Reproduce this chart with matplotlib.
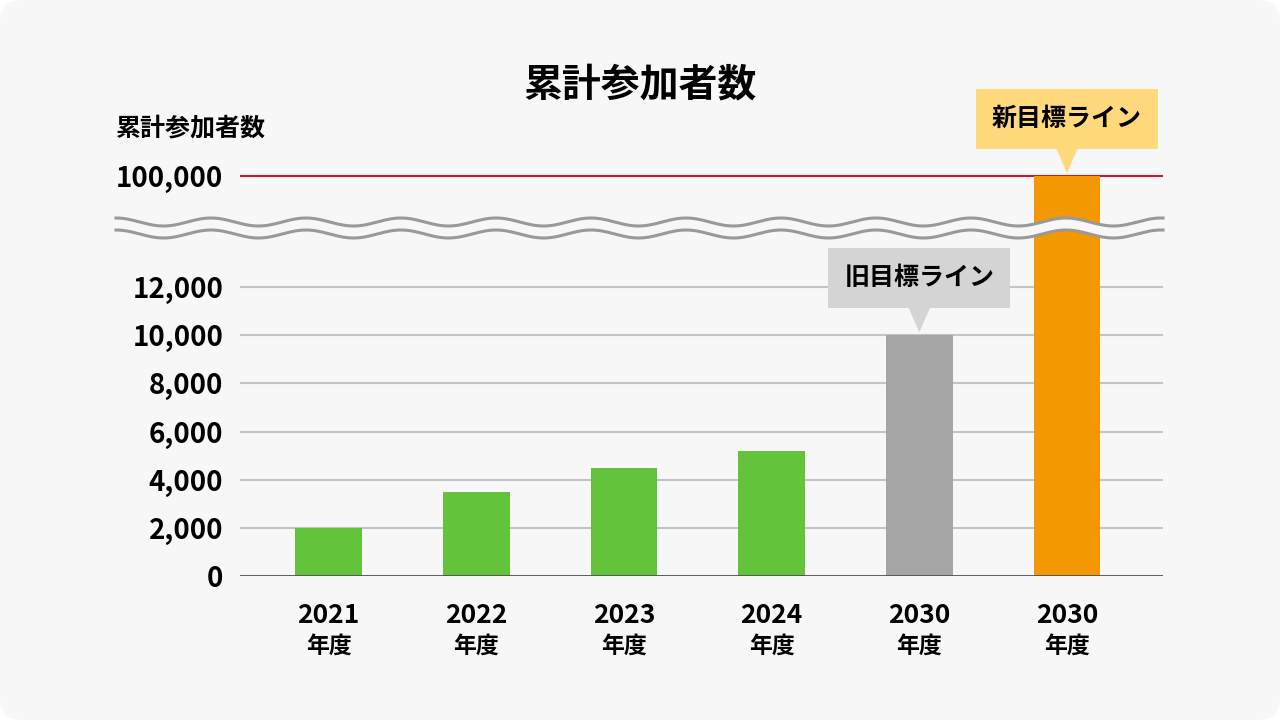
import numpy as np
import matplotlib.pyplot as plt
from matplotlib.patches import FancyBboxPatch, Polygon, Rectangle
from matplotlib.lines import Line2D
from matplotlib.transforms import IdentityTransform

plt.rcParams['font.family'] = ['Noto Sans CJK JP', 'DejaVu Sans']

years = ['2021', '2022', '2023', '2024', '2030', '2030']
values = [2000, 3500, 4500, 5200, 10000, 100000]
colors = ['#63c33a', '#63c33a', '#63c33a', '#63c33a', '#a5a5a5', '#f39800']
yticks = [0, 2000, 4000, 6000, 8000, 10000, 12000, 100000]
callouts = [(4, '旧目標ライン', '#d4d4d4'), (5, '新目標ライン', '#ffd97b')]

# broken axis: linear up to 13000, compressed above
B = 13000
K = 0.0415

def fwd(y):
    y = np.asarray(y, dtype=float)
    return np.where(y <= B, y, B + (y - B) * K)

def inv(f):
    f = np.asarray(f, dtype=float)
    return np.where(f <= B, f, B + (f - B) / K)

fig = plt.figure(figsize=(12.8, 7.2), dpi=100, facecolor='white')
card = FancyBboxPatch((0, 0), 1280, 720, boxstyle='round,pad=0,rounding_size=22',
                      transform=IdentityTransform(), fc='#f7f7f7', ec='none', zorder=-10)
fig.patches.append(card)

ax = fig.add_axes([240 / 1280, 0.2, 923 / 1280, 426 / 720])
ax.set_facecolor('none')
ax.set_yscale('function', functions=(fwd, inv))
ax.set_ylim(0, float(inv(17691)))
ax.set_xlim(-0.6, 5.65)

for v in yticks:
    if v == 0:
        ax.axhline(v, color='#505050', lw=2, zorder=3)
    elif v == 100000:
        ax.axhline(v, color='#d0192f', lw=1.5, zorder=1)
    else:
        ax.axhline(v, color='#c4c4c4', lw=1.5, zorder=1)

x = np.arange(len(years))
ax.bar(x, values, width=0.45, color=colors, zorder=2)

for s in ax.spines.values():
    s.set_visible(False)
ax.set_yticks(yticks)
ax.set_yticklabels([f'{v:,}' for v in yticks], fontsize=20, fontweight='bold')
ax.set_xticks(x)
ax.set_xticklabels(years, fontsize=19, fontweight='bold')
ax.tick_params(length=0)
ax.tick_params(axis='y', pad=12)
ax.tick_params(axis='x', pad=19)
for xi in x:
    ax.annotate('年度', (xi, 0), xytext=(0, -42), textcoords='offset points',
                ha='center', va='top', fontsize=16.5, fontweight='bold')

fig.text(0.5, 1 - 85 / 720, '累計参加者数', ha='center', va='center',
         fontsize=28, fontweight='bold')
fig.text(116 / 1280, 1 - 128 / 720, '累計参加者数', ha='left', va='center',
         fontsize=18, fontweight='bold')

fig.canvas.draw()

# wavy break marks
wx = np.linspace(116, 1163, 600)
top = 720 - (222 - 4 * np.cos(2 * np.pi * (wx - 116) / 95))
bot = top - 12
band = Polygon(np.column_stack([np.r_[wx, wx[::-1]], np.r_[top, bot[::-1]]]),
               transform=IdentityTransform(), fc='#f7f7f7', ec='none', zorder=5)
fig.patches.append(band)
for yy in (top, bot):
    fig.lines.append(Line2D(wx, yy, transform=IdentityTransform(), color='#999999',
                            lw=2.2, zorder=6))

# callouts
for i, label, fc in callouts:
    px, py = ax.transData.transform((x[i], values[i]))
    tip = py + 3
    base = tip + 24
    w, h = 182, 60
    fig.patches.append(Rectangle((px - w / 2, base), w, h, transform=IdentityTransform(),
                                 fc=fc, ec='none', zorder=7))
    fig.patches.append(Polygon([(px - 11, base + 1), (px + 11, base + 1), (px, tip)],
                               transform=IdentityTransform(), fc=fc, ec='none', zorder=7))
    fig.text(px / 1280, (base + h / 2) / 720, label, ha='center', va='center',
             fontsize=18, fontweight='bold', zorder=8)

fig.savefig('out.png', dpi=100, facecolor='white')
